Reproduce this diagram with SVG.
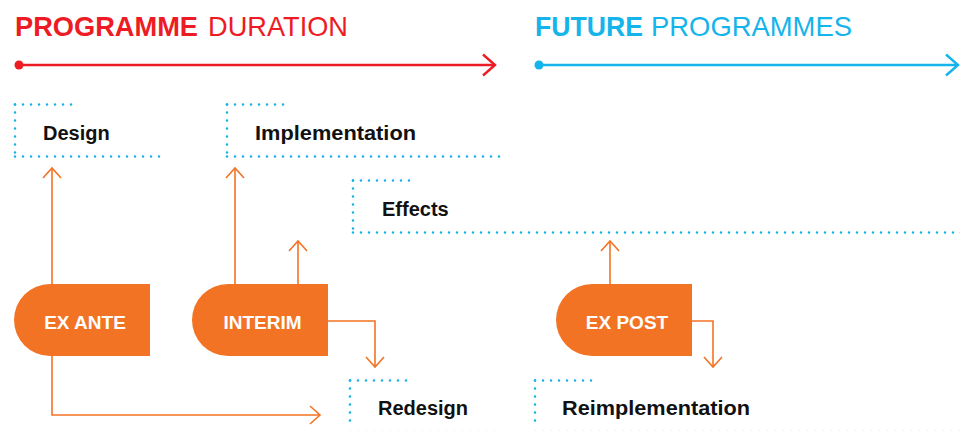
<svg xmlns="http://www.w3.org/2000/svg" width="960" height="431" viewBox="0 0 960 431">
<style>
.title{font-family:"Liberation Sans",Arial,sans-serif;font-size:28px}
.b{font-weight:bold}
.red{fill:#ED1C24}
.blue{fill:#15B4EA}
.dot{fill:none;stroke:#15B4EA;stroke-width:2.6;stroke-linecap:round;stroke-dasharray:0 8}
.lbl{font-family:"Liberation Sans",Arial,sans-serif;font-size:20px;font-weight:bold;fill:#111}
.node{fill:#F37324}
.ntxt{font-family:"Liberation Sans",Arial,sans-serif;font-size:19px;font-weight:bold;fill:#fff;text-anchor:middle}
.con{fill:none;stroke:#F37324;stroke-width:1.6}
</style>
<defs>
<marker id="oa" markerUnits="userSpaceOnUse" markerWidth="24" markerHeight="24" viewBox="-12 -12 24 24" refX="0" refY="0" orient="auto">
<path d="M-10,-9 L0,0 L-10,9" fill="none" stroke="#F37324" stroke-width="1.6"/>
</marker>
<marker id="ra" markerUnits="userSpaceOnUse" markerWidth="30" markerHeight="30" viewBox="-15 -15 30 30" refX="0" refY="0" orient="auto">
<path d="M-12,-10.5 L0,0 L-12,10.5" fill="none" stroke="#ED1C24" stroke-width="2.4"/>
</marker>
<marker id="ba" markerUnits="userSpaceOnUse" markerWidth="30" markerHeight="30" viewBox="-15 -15 30 30" refX="0" refY="0" orient="auto">
<path d="M-12,-10.5 L0,0 L-12,10.5" fill="none" stroke="#15B4EA" stroke-width="2.4"/>
</marker>
</defs>

<g id="programme-duration">
<text class="title b red" x="15" y="36" textLength="183" lengthAdjust="spacingAndGlyphs">PROGRAMME</text>
<text class="title red" x="208" y="36" textLength="140" lengthAdjust="spacingAndGlyphs">DURATION</text>
<circle cx="19" cy="65" r="4.5" fill="#ED1C24"/>
<line x1="19" y1="65" x2="495" y2="65" stroke="#ED1C24" stroke-width="2.4" marker-end="url(#ra)"/>
</g>

<g id="future-programmes">
<text class="title b blue" x="535" y="36" textLength="108" lengthAdjust="spacingAndGlyphs">FUTURE</text>
<text class="title blue" x="651" y="36" textLength="201" lengthAdjust="spacingAndGlyphs">PROGRAMMES</text>
<circle cx="539" cy="65" r="4.5" fill="#15B4EA"/>
<line x1="539" y1="65" x2="958" y2="65" stroke="#15B4EA" stroke-width="2.4" marker-end="url(#ba)"/>
</g>

<g id="design">
<line class="dot" x1="15" y1="104.5" x2="72" y2="104.5"/>
<line class="dot" x1="15" y1="104.5" x2="15" y2="156.5"/>
<line class="dot" x1="15" y1="156.5" x2="166" y2="156.5"/>
<text class="lbl" x="43" y="140">Design</text>
</g>

<g id="implementation">
<line class="dot" x1="227" y1="104.5" x2="285" y2="104.5"/>
<line class="dot" x1="227" y1="104.5" x2="227" y2="156.5"/>
<line class="dot" x1="227" y1="156.5" x2="503" y2="156.5"/>
<text class="lbl" x="255" y="140" textLength="161" lengthAdjust="spacingAndGlyphs">Implementation</text>
</g>

<g id="effects">
<line class="dot" x1="353" y1="180.5" x2="411" y2="180.5"/>
<line class="dot" x1="353" y1="180.5" x2="353" y2="232.5"/>
<line class="dot" x1="353" y1="232.5" x2="962" y2="232.5"/>
<text class="lbl" x="382" y="216">Effects</text>
</g>

<g id="redesign">
<line class="dot" x1="350" y1="380.5" x2="408" y2="380.5"/>
<line class="dot" x1="350" y1="380.5" x2="350" y2="425"/>
<line class="dot" x1="350" y1="432" x2="502" y2="432"/>
<text class="lbl" x="378" y="415">Redesign</text>
</g>

<g id="reimplementation">
<line class="dot" x1="535" y1="380.5" x2="592" y2="380.5"/>
<line class="dot" x1="535" y1="380.5" x2="535" y2="425"/>
<line class="dot" x1="535" y1="432" x2="962" y2="432"/>
<text class="lbl" x="562" y="415" textLength="188" lengthAdjust="spacingAndGlyphs">Reimplementation</text>
</g>

<g id="ex-ante">
<path class="node" d="M150,284 H50 A36,36 0 0 0 50,356 H150 Z"/>
<text class="ntxt" x="85" y="329">EX ANTE</text>
</g>

<g id="interim">
<path class="node" d="M328,284 H228 A36,36 0 0 0 228,356 H328 Z"/>
<text class="ntxt" x="262.5" y="329">INTERIM</text>
</g>

<g id="ex-post">
<path class="node" d="M692,284 H592 A36,36 0 0 0 592,356 H692 Z"/>
<text class="ntxt" x="627" y="329">EX POST</text>
</g>

<g id="connectors">
<line class="con" x1="52" y1="284" x2="52" y2="168" marker-end="url(#oa)"/>
<path class="con" d="M52,356 V415 H320" marker-end="url(#oa)"/>
<line class="con" x1="235" y1="284" x2="235" y2="168" marker-end="url(#oa)"/>
<line class="con" x1="298" y1="284" x2="298" y2="241" marker-end="url(#oa)"/>
<path class="con" d="M328,321 H375 V367" marker-end="url(#oa)"/>
<line class="con" x1="610" y1="284" x2="610" y2="241" marker-end="url(#oa)"/>
<path class="con" d="M692,321 H713 V367" marker-end="url(#oa)"/>
</g>
</svg>
